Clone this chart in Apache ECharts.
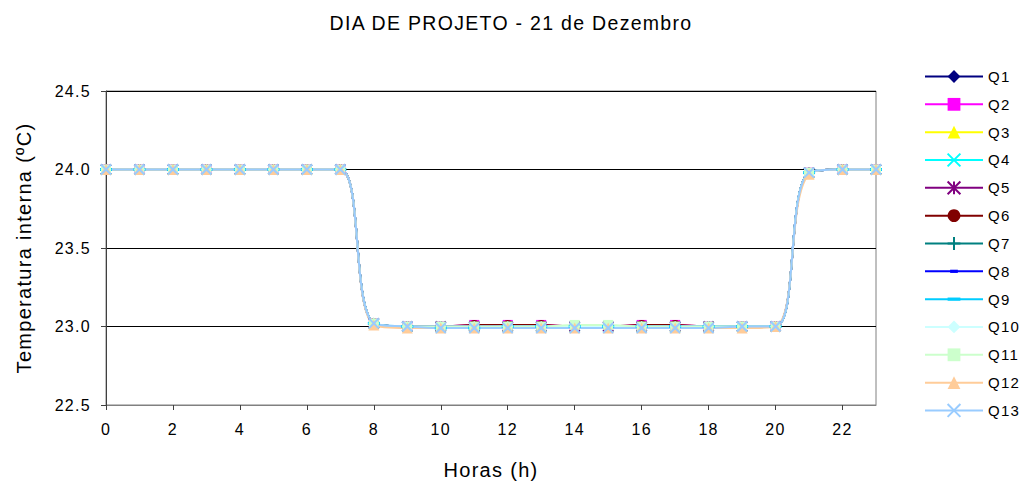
<!DOCTYPE html>
<html>
<head>
<meta charset="utf-8">
<script src="https://cdn.jsdelivr.net/npm/echarts@6/dist/echarts.min.js"></script>
<style>
html,body{margin:0;padding:0;background:#fff;}
#chart{width:1023px;height:485px;}
/* texto do Excel é mais espaçado */
#chart svg text{letter-spacing:1.3px;}
</style>
</head>
<body>
<div id="chart"></div>
<script>
// horas do dia
var hours = ['0','1','2','3','4','5','6','7','8','9','10','11','12','13','14','15','16','17','18','19','20','21','22','23'];

// temperatura interna por ambiente (ºC)
var q1  = [24,24,24,24,24,24,24,24,23.02,23.0,23.0,23.0,23.0,23.0,23.0,23.0,23.0,23.0,23.0,23.0,23.0,23.98,24,24];
var q2  = [24,24,24,24,24,24,24,24,23.02,23.0,23.0,23.01,23.01,23.01,23.0,23.0,23.01,23.01,23.0,23.0,23.0,23.98,24,24];
var q3  = [24,24,24,24,24,24,24,24,23.02,23.0,23.0,23.0,23.0,23.0,23.0,23.0,23.0,23.0,23.0,23.0,23.0,23.98,24,24];
var q4  = [24,24,24,24,24,24,24,24,23.02,23.0,23.0,23.0,23.0,23.0,23.0,23.0,23.0,23.0,23.0,23.0,23.0,23.98,24,24];
var q5  = [24,24,24,24,24,24,24,24,23.02,23.0,23.0,23.0,23.0,23.0,23.0,23.0,23.0,23.0,23.0,23.0,23.0,23.98,24,24];
var q6  = [24,24,24,24,24,24,24,24,23.02,23.0,23.0,23.01,23.01,23.01,23.0,23.0,23.01,23.01,23.0,23.0,23.0,23.98,24,24];
var q7  = [24,24,24,24,24,24,24,24,23.02,23.0,23.0,23.0,23.0,23.0,23.0,23.0,23.0,23.0,23.0,23.0,23.0,23.98,24,24];
var q8  = [24,24,24,24,24,24,24,24,23.02,23.0,23.0,23.0,23.0,23.0,23.0,23.0,23.0,23.0,23.0,23.0,23.0,23.98,24,24];
var q9  = [24,24,24,24,24,24,24,24,23.02,23.0,22.99,22.99,23.0,23.0,23.0,23.0,23.0,23.0,23.0,23.0,23.0,23.98,24,24];
var q10 = [24,24,24,24,24,24,24,24,23.02,23.0,23.0,23.0,23.0,23.0,23.0,23.0,23.0,23.0,23.0,23.0,23.0,23.98,24,24];
var q11 = [24,24,24,24,24,24,24,24,23.02,23.0,23.0,23.0,23.0,23.0,23.01,23.01,23.0,23.0,23.0,23.0,23.0,23.98,24,24];
var q12 = [24,24,24,24,24,24,24,24,23.01,22.99,22.99,22.99,22.99,22.99,22.99,22.99,22.99,22.99,22.99,22.99,23.0,23.97,24,24];
var q13 = [24,24,24,24,24,24,24,24,23.02,23.0,22.99,22.99,22.99,22.99,22.99,22.99,22.99,22.99,22.99,23.0,23.0,23.98,24,24];

var names = ['Q1','Q2','Q3','Q4','Q5','Q6','Q7','Q8','Q9','Q10','Q11','Q12','Q13'];
var valores = [q1,q2,q3,q4,q5,q6,q7,q8,q9,q10,q11,q12,q13];

var cores = ['#000080','#FF00FF','#FFFF00','#00FFFF','#800080','#800000','#008080','#0000FF','#00CCFF','#CCFFFF','#CCFFCC','#FFCC99','#99CCFF'];

var X_PATH = 'path://M0,0L10,10M10,0L0,10';
var STAR_PATH = 'path://M0,0L10,10M10,0L0,10M5,0L5,10';
var PLUS_PATH = 'path://M5,0L5,10M0,5L10,5';
// traços (caixa 10x10 para manter a proporção na legenda)
var DASH_S = 'path://M0,0M10,10M2,3.75L8,3.75L8,6.25L2,6.25Z';
var DASH_L = 'path://M0,0M10,10M0,3.75L10,3.75L10,6.25L0,6.25Z';
var simbolos = ['diamond','rect','triangle',X_PATH,STAR_PATH,'circle',PLUS_PATH,DASH_S,DASH_L,'diamond','rect','triangle',X_PATH];
var tamanhos = [11,10,11,10,10,10,10,10,12,11,10,11,10];

var series = [];
for (var i = 0; i < names.length; i++) {
	var stroke = (simbolos[i] === X_PATH || simbolos[i] === STAR_PATH || simbolos[i] === PLUS_PATH);
	series.push({
		name: names[i],
		type: 'line',
		data: valores[i],
		smooth: 0.4,
		symbol: simbolos[i],
		symbolSize: tamanhos[i],
		showAllSymbol: true,
		lineStyle: {color: cores[i], width: 2},
		itemStyle: {
			color: cores[i],
			borderColor: cores[i],
			borderWidth: stroke ? 2 : 0
		},
		emphasis: {disabled: true}
	});
}

var chart = echarts.init(document.getElementById('chart'), null, {renderer: 'svg'});
var option = {
	animation: false,
	backgroundColor: '#ffffff',
	textStyle: {fontFamily: 'Liberation Sans, Arial, sans-serif'},
	title: {
		text: 'DIA DE PROJETO - 21 de Dezembro',
		left: 506,
		textAlign: 'center',
		top: 8,
		textStyle: {fontSize: 19.5, fontWeight: 'normal', color: '#000'}
	},
	legend: {
		orient: 'vertical',
		left: 924,
		top: 69,
		padding: 0,
		itemWidth: 58,
		itemHeight: 16,
		itemGap: 12.83,
		textStyle: {fontSize: 15, color: '#000'},
		data: names
	},
	grid: {
		left: 106,
		right: 147,
		top: 91,
		bottom: 80,
		show: true,
		borderColor: '#808080',
		borderWidth: 1,
		backgroundColor: '#ffffff'
	},
	xAxis: {
		type: 'category',
		data: hours,
		boundaryGap: false,
		name: 'Horas (h)',
		nameLocation: 'middle',
		nameGap: 55,
		nameTextStyle: {fontSize: 20, color: '#000'},
		axisLine: {lineStyle: {color: '#808080', width: 1}},
		axisTick: {show: true, interval: 1, length: 5, lineStyle: {color: '#404040'}},
		axisLabel: {interval: 1, fontSize: 16, color: '#000', margin: 16}
	},
	yAxis: {
		type: 'value',
		min: 22.5,
		max: 24.5,
		interval: 0.5,
		name: 'Temperatura interna (ºC)',
		nameLocation: 'middle',
		nameGap: 72,
		nameTextStyle: {fontSize: 20, color: '#000'},
		axisLine: {show: true, lineStyle: {color: '#404040', width: 1}},
		axisTick: {show: true, length: 5, lineStyle: {color: '#404040'}},
		axisLabel: {fontSize: 16, color: '#000', margin: 15, formatter: function (v) { return v.toFixed(1); }},
		splitLine: {show: true, lineStyle: {color: '#000', width: 1}}
	},
	series: series
};
chart.setOption(option);
</script>
</body>
</html>
